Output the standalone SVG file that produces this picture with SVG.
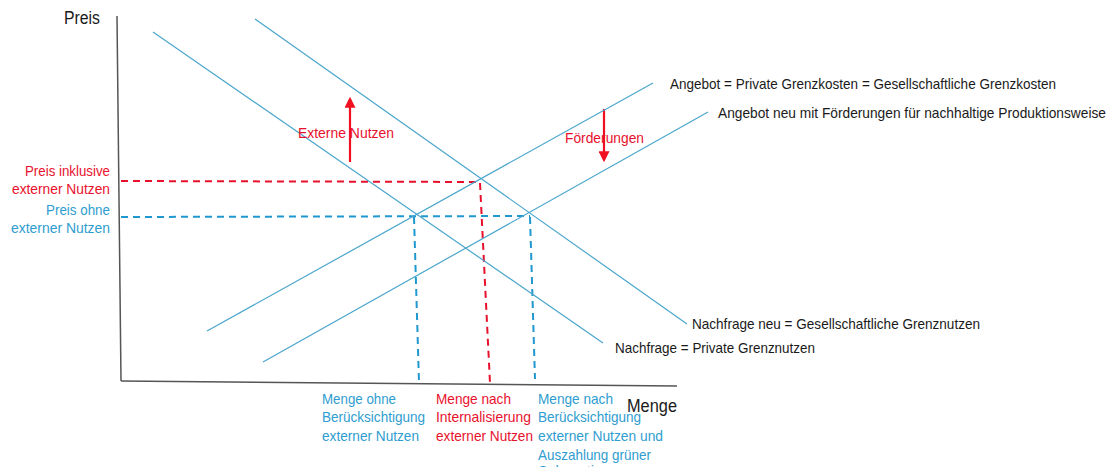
<svg xmlns="http://www.w3.org/2000/svg" width="1115" height="467" viewBox="0 0 1115 467">
<style>
text{font-family:"Liberation Sans",Arial,sans-serif;font-size:14.5px}
.blk{fill:#1a1a1a}
.red{fill:#e8112d}
.blu{fill:#2f9dd0}
.ax{font-size:18px;fill:#1a1a1a}
.axis{stroke:#555;stroke-width:1.5;fill:none}
.curve{stroke:#4aa6cc;stroke-width:1.2;fill:none}
.dr{stroke:#e8112d;stroke-width:2;stroke-dasharray:7 5;fill:none}
.db{stroke:#1f98cf;stroke-width:2;stroke-dasharray:7 5;fill:none}
.arr{stroke:#f01020;stroke-width:2.2;fill:none;marker-end:url(#ah)}
</style>
<defs>
<marker id="ah" viewBox="0 0 10 10" refX="8" refY="5" markerWidth="5" markerHeight="5" orient="auto" markerUnits="strokeWidth">
<path d="M0,0 L10,5 L0,10 z" fill="#f01020"/>
</marker>
</defs>
<rect width="1115" height="467" fill="#fff"/>
<g id="axes">
<line class="axis" x1="117" y1="16" x2="121" y2="381"/>
<line class="axis" x1="121" y1="381" x2="677" y2="386"/>
<text class="ax" x="64" y="24" textLength="36" lengthAdjust="spacingAndGlyphs">Preis</text>
<text class="ax" x="627" y="412" textLength="50" lengthAdjust="spacingAndGlyphs">Menge</text>
</g>
<g id="connectors">
<line class="dr" x1="121" y1="181" x2="480" y2="182"/>
<line class="dr" x1="480" y1="183" x2="490" y2="383"/>
<line class="db" x1="121" y1="217" x2="530" y2="216"/>
<line class="db" x1="414" y1="217" x2="419" y2="382"/>
<line class="db" x1="530" y1="217" x2="535" y2="379"/>
<line class="arr" x1="350" y1="162" x2="350" y2="99"/>
<line class="arr" x1="604" y1="109" x2="604" y2="160"/>
</g>
<g id="nachfrage">
<line class="curve" x1="153" y1="32" x2="603" y2="343"/>
<text class="blk" x="615" y="353" textLength="200" lengthAdjust="spacingAndGlyphs">Nachfrage = Private Grenznutzen</text>
</g>
<g id="nachfrage-neu">
<line class="curve" x1="255" y1="19" x2="687" y2="324"/>
<text class="blk" x="692" y="329" textLength="288" lengthAdjust="spacingAndGlyphs">Nachfrage neu = Gesellschaftliche Grenznutzen</text>
</g>
<g id="angebot">
<line class="curve" x1="207" y1="331" x2="653" y2="83"/>
<text class="blk" x="670" y="89" textLength="386" lengthAdjust="spacingAndGlyphs">Angebot = Private Grenzkosten = Gesellschaftliche Grenzkosten</text>
</g>
<g id="angebot-neu">
<line class="curve" x1="263" y1="362" x2="708" y2="112"/>
<text class="blk" x="718" y="118" textLength="388" lengthAdjust="spacingAndGlyphs">Angebot neu mit Förderungen für nachhaltige Produktionsweise</text>
</g>
<g id="externe-nutzen">
<text class="red" x="298" y="138" textLength="96" lengthAdjust="spacingAndGlyphs">Externe Nutzen</text>
</g>
<g id="foerderungen">
<text class="red" x="565" y="143" textLength="79" lengthAdjust="spacingAndGlyphs">Förderungen</text>
</g>
<g id="preis-inklusive">
<text class="red" x="25" y="176" textLength="85" lengthAdjust="spacingAndGlyphs">Preis inklusive</text>
<text class="red" x="12" y="194" textLength="98" lengthAdjust="spacingAndGlyphs">externer Nutzen</text>
</g>
<g id="preis-ohne">
<text class="blu" x="46" y="215" textLength="64" lengthAdjust="spacingAndGlyphs">Preis ohne</text>
<text class="blu" x="11" y="233" textLength="99" lengthAdjust="spacingAndGlyphs">externer Nutzen</text>
</g>
<g id="menge-ohne">
<text class="blu" x="322" y="404" textLength="74" lengthAdjust="spacingAndGlyphs">Menge ohne</text>
<text class="blu" x="322" y="422" textLength="103" lengthAdjust="spacingAndGlyphs">Berücksichtigung</text>
<text class="blu" x="322" y="441" textLength="97" lengthAdjust="spacingAndGlyphs">externer Nutzen</text>
</g>
<g id="menge-internalisierung">
<text class="red" x="436" y="404" textLength="75" lengthAdjust="spacingAndGlyphs">Menge nach</text>
<text class="red" x="436" y="422" textLength="95" lengthAdjust="spacingAndGlyphs">Internalisierung</text>
<text class="red" x="436" y="441" textLength="97" lengthAdjust="spacingAndGlyphs">externer Nutzen</text>
</g>
<g id="menge-subvention">
<text class="blu" x="538" y="404" textLength="75" lengthAdjust="spacingAndGlyphs">Menge nach</text>
<text class="blu" x="538" y="422" textLength="103" lengthAdjust="spacingAndGlyphs">Berücksichtigung</text>
<text class="blu" x="538" y="441" textLength="125" lengthAdjust="spacingAndGlyphs">externer Nutzen und</text>
<text class="blu" x="538" y="460" textLength="113" lengthAdjust="spacingAndGlyphs">Auszahlung grüner</text>
<text class="blu" x="538" y="476" textLength="88" lengthAdjust="spacingAndGlyphs">Subventionen</text>
</g>
</svg>
